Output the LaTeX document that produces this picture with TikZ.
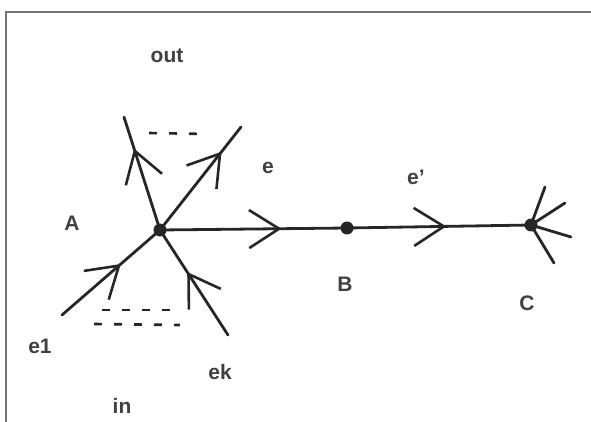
\documentclass[tikz,border=0pt]{standalone}
\usepackage{fontspec}
\setmainfont{Liberation Sans}
\usetikzlibrary{arrows.meta,decorations.markings}

\tikzset{
  edge/.style={line width=2.8pt, draw=black!85, line cap=round},
  midarrow/.style={postaction={decorate}, decoration={markings,
    mark=at position #1 with {\arrow{Straight Barb[length=30pt,width=38pt,line width=2.6pt]}}}},
  vertex/.style={circle, fill=black!85, inner sep=0pt, minimum size=13pt},
  lbl/.style={font=\bfseries\fontsize{21}{21}\selectfont, text=black!75},
  gap/.style={line width=2.6pt, draw=black!85, dash pattern=on 8pt off 12pt},
}

\begin{document}
\begin{tikzpicture}[x=1pt, y=-1pt]
\useasboundingbox (0,0) rectangle (591,422);
\draw[black!55, line width=1.4pt] (591,12) -- (6,12) -- (6,422);
% vertices
\coordinate (A) at (160,230);\coordinate (B) at (347,228);\coordinate (C) at (531,225);
% ends of the edges at A
\coordinate (out1) at (124,117);\coordinate (outk) at (241,127);
\coordinate (in1) at (62,315);\coordinate (ink) at (228,335);
% spokes at C
\coordinate (c1) at (545,187);\coordinate (c2) at (565,203);
\coordinate (c3) at (571,237);\coordinate (c4) at (554,263);
\draw[edge, midarrow=0.72] (A) -- (out1);
\draw[edge, midarrow=0.76] (A) -- (outk);
\draw[edge, midarrow=0.60] (in1) -- (A);
\draw[edge, midarrow=0.60] (ink) -- (A);
\draw[edge, midarrow=0.65] (A) -- (B);
\draw[edge, midarrow=0.54] (B) -- (C);
\foreach \s in {c1,c2,c3,c4} \draw[edge] (C) -- (\s);
% the dots between the edges
\coordinate (go1) at (149,133);\coordinate (go2) at (207,134);
\draw[gap] (go1) -- (go2);
\coordinate (gi1) at (102,310);\coordinate (gi2) at (170,310);
\draw[gap] (gi1) -- (gi2);
\coordinate (gj1) at (94,324);\coordinate (gj2) at (180,325);
\draw[gap] (gj1) -- (gj2);
\node[vertex] (vA) at (A) {};\node[vertex] (vB) at (B) {};\node[vertex] (vC) at (C) {};
% labels
\node[lbl] (lout) at (167,56) {out};
\node[lbl] (le) at (268,168) {e};
\node[lbl] (lep) at (416,177) {e'};
\node[lbl] (lA) at (72,223) {A};
\node[lbl] (lB) at (345,284) {B};
\node[lbl] (lC) at (527,303) {C};
\node[lbl] (le1) at (40,346) {e1};
\node[lbl] (lek) at (220,372) {ek};
\node[lbl] (lin) at (122,406) {in};
\end{tikzpicture}
\end{document}
